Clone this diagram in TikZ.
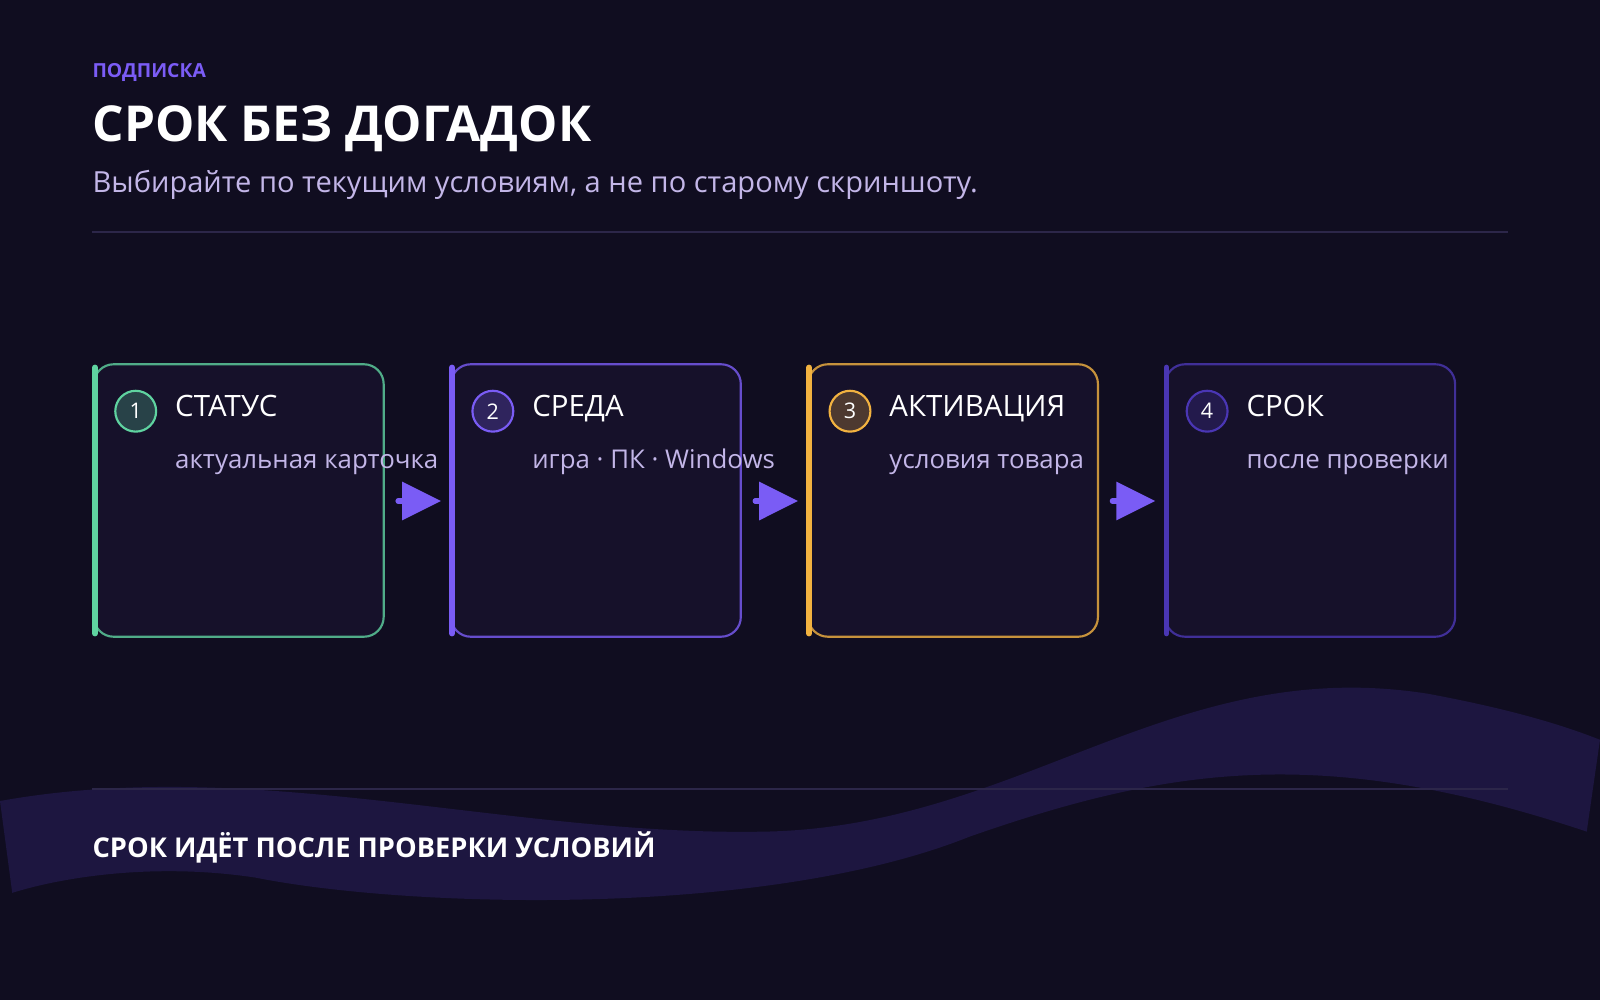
\documentclass[tikz,border=0pt]{standalone}
\usepackage{fontspec}
\setmainfont{Open Sans}
\definecolor{bgc}{HTML}{100D20}
\definecolor{cardc}{HTML}{16112A}
\definecolor{wavec}{HTML}{1D1640}
\definecolor{rulec}{HTML}{2C2649}
\definecolor{kickc}{HTML}{7B5CF6}
\definecolor{subc}{HTML}{C3B6E8}
\definecolor{greenc}{HTML}{5FD3A0}
\definecolor{purpc}{HTML}{7A5CF5}
\definecolor{orangc}{HTML}{F2B240}
\definecolor{deepc}{HTML}{4A36B4}
\newcommand{\fpx}[1]{\fontsize{#1}{#1}\selectfont}
\begin{document}
\begin{tikzpicture}[x=0.01cm,y=-0.01cm]
\tikzset{card/.style={draw=#1!80!cardc,line width=0.6pt,fill=cardc,rounded corners=5.5pt},
  bar/.style={draw=#1,line width=1.5pt,line cap=round},
  num/.style={circle,draw=#1,line width=0.6pt,fill=#1!25!cardc,minimum size=0.4cm,inner sep=0pt,text=white,font=\fpx{6pt}},
  ttl/.style={anchor=base west,text=white,font=\fpx{8.2pt},inner sep=0pt},
  sub/.style={anchor=base west,text=subc,font=\fpx{7.2pt},inner sep=0pt},
  flowtip/.style={fill=purpc}}
\fill[bgc] (0,0) rectangle (1568,980);
\useasboundingbox (0,0) rectangle (1568,980);
% wave band
\fill[wavec] (0,785) .. controls (250,740) and (500,820) .. (750,815)
  .. controls (1000,810) and (1150,640) .. (1400,680)
  .. controls (1480,695) and (1530,710) .. (1568,725)
  -- (1555,815) .. controls (1300,730) and (1150,750) .. (950,820)
  .. controls (750,900) and (400,890) .. (250,860)
  .. controls (150,845) and (60,860) .. (12,875) -- cycle;
% header
\node[anchor=base west,inner sep=0pt,text=kickc,font=\fpx{5.4pt}\bfseries] (kick) at (90,76) {ПОДПИСКА};
\node[anchor=base west,inner sep=0pt,text=white,font=\fpx{13.8pt}\bfseries] (head) at (90,139) {СРОК БЕЗ ДОГАДОК};
\node[anchor=base west,inner sep=0pt,text=subc,font=\fpx{8.1pt}] (lead) at (90,189) {Выбирайте по текущим условиям, а не по старому скриншоту.};
\draw[rulec,line width=0.6pt] (90,227) -- (1478,227);
\draw[rulec,line width=0.6pt] (90,773) -- (1478,773);
\node[anchor=base west,inner sep=0pt,text=white,font=\fpx{7.6pt}\bfseries] (foot) at (90,840) {СРОК ИДЁТ ПОСЛЕ ПРОВЕРКИ УСЛОВИЙ};
% cards
\foreach \i/\x/\c/\t/\s in {1/92/greenc/СТАТУС/актуальная карточка,
  2/442/purpc/СРЕДА/игра · ПК · Windows,
  3/792/orangc/АКТИВАЦИЯ/условия товара,
  4/1142/deepc/СРОК/после проверки}{
  \draw[card=\c] (\x,357) rectangle ++(284,267);
  \draw[bar=\c] (\x+1,360) -- (\x+1,621);
  \node[num=\c] (n\i) at (\x+41,403) {\i};
  \node[ttl] (t\i) at (\x+79,408) {\t};
  \node[sub] (s\i) at (\x+79,459) {\s};
  \coordinate (r\i) at (\x+284,491);
  \coordinate (l\i) at (\x,491);
}
% arrows
\foreach \a/\b in {1/2,2/3,3/4}{
  \draw[purpc,line width=1.4pt,line cap=round] ([xshift=0.14cm]r\a) -- ([xshift=0.24cm]r\a);
  \fill[flowtip] ([xshift=0.18cm,yshift=0.19cm]r\a) -- ([xshift=-0.10cm]l\b) -- ([xshift=0.18cm,yshift=-0.19cm]r\a) -- cycle;
}
\end{tikzpicture}
\end{document}
